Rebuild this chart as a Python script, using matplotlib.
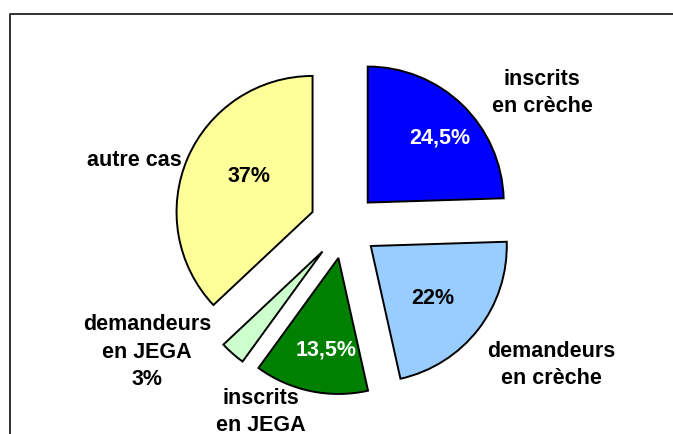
import matplotlib
matplotlib.use("Agg")
import matplotlib.pyplot as plt

# Data
categories = ["inscrits\nen crèche", "demandeurs\nen crèche", "inscrits\nen JEGA",
              "demandeurs\nen JEGA", "autre cas"]
values = [24.5, 22, 13.5, 3, 37]
pct_labels = ["24,5%", "22%", "13,5%", "3%", "37%"]
colors = ["#0000FF", "#99CCFF", "#008000", "#CCFFCC", "#FFFF99"]
explode = [0.24, 0.24, 0.24, 0.25, 0.26]

W, H = 673, 434
fig = plt.figure(figsize=(W / 100, H / 100), dpi=100)
ax = fig.add_axes([0, 0, 1, 1])

cx, cy, r = 345, H - 226, 136
ax.pie(values, colors=colors, explode=[e * r for e in explode], startangle=90,
       counterclock=False, center=(cx, cy), radius=r, frame=True,
       wedgeprops=dict(edgecolor="black", linewidth=1.4))
ax.set_xlim(0, W)
ax.set_ylim(0, H)
ax.set_aspect("equal")
ax.axis("off")

font = dict(family="Liberation Sans", fontweight="bold", fontsize=15.5,
            ha="center", va="center", linespacing=1.4)

def T(x, y, s, **kw):
    d = dict(font)
    d.update(kw)
    ax.text(x, H - y, s, **d)

# Category labels
T(542, 93, categories[0])
T(551, 365, categories[1])
T(261, 412, categories[2])
T(147, 352, categories[3] + "\n" + pct_labels[3])
T(134, 160, categories[4])

# Percentage labels
T(440, 138, pct_labels[0], color="white")
T(433, 298, pct_labels[1])
T(326, 350, pct_labels[2], color="white")
T(249, 176, pct_labels[4])

# Frame
ax.plot([9.5, 9.5, W + 5], [-5, H - 13.5, H - 13.5], color="#222222", lw=1.3,
        clip_on=False)

fig.savefig("out.png", dpi=100)
